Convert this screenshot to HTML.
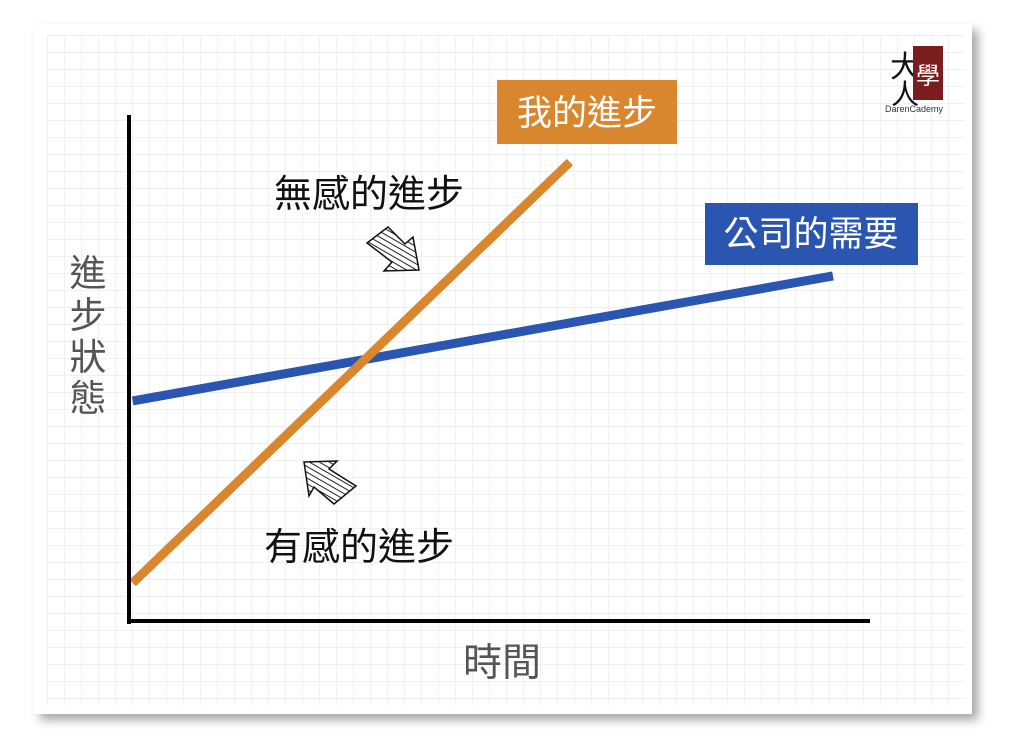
<!DOCTYPE html>
<html><head><meta charset="utf-8"><style>
body{margin:0;width:1024px;height:742px;background:#fff;overflow:hidden;font-family:"Liberation Sans","Noto Sans CJK TC",sans-serif}
</style></head><body>
<svg width="1024" height="742">
<defs>
<pattern id="grid" x="47" y="35" width="17" height="17" patternUnits="userSpaceOnUse"><path d="M0 0H17M0 0V17" stroke="#e3e3e8" stroke-width="1" fill="none"/></pattern>
<pattern id="hatch" width="5" height="5" patternUnits="userSpaceOnUse" patternTransform="rotate(30)"><rect width="5" height="5" fill="#fff"/><line x1="0" y1="0" x2="5" y2="0" stroke="#222" stroke-width="2"/></pattern>
<filter id="sh"><feDropShadow dx="6" dy="6" stdDeviation="5" flood-color="#000" flood-opacity="0.35"/></filter>
</defs>
<rect x="34" y="24" width="938" height="690" fill="#fff" filter="url(#sh)"/>
<rect x="47" y="35" width="918" height="670" fill="url(#grid)"/>
<g id="plot"></g>
<line x1="129" y1="115" x2="129" y2="624" stroke="#000" stroke-width="4"/>
<line x1="127" y1="621" x2="870" y2="621" stroke="#000" stroke-width="4"/>
<text x="502" y="676" font-size="39" fill="#555" text-anchor="middle">時間</text>
<g font-size="37" fill="#555" text-anchor="middle"><text x="88" y="286">進</text><text x="88" y="328">步</text><text x="88" y="370">狀</text><text x="88" y="411">態</text></g>
<rect x="497" y="80" width="180" height="64" fill="#d9872e"/>
<text x="587" y="125" font-size="35" fill="#fff" text-anchor="middle">我的進步</text>
<rect x="705" y="203" width="213" height="62" fill="#2a55b0"/>
<text x="811" y="246" font-size="35" fill="#fff" text-anchor="middle">公司的需要</text>
<text x="369" y="207" font-size="38" fill="#111" text-anchor="middle">無感的進步</text>
<text x="359" y="560" font-size="38" fill="#111" text-anchor="middle">有感的進步</text>
<path d="M367 243 L388 227 L405 244 L413 237 L419 270 L384 271 L392 262 Z" fill="url(#hatch)" stroke="#111" stroke-width="1.5"/>
<path d="M304 462 L337 461 L329 469 L356 486 L334 504 L314 487 L309 496 Z" fill="url(#hatch)" stroke="#111" stroke-width="1.5"/>
<g>
<text x="905" y="77" font-size="30" fill="#111" text-anchor="middle">大</text>
<text x="905" y="104" font-size="28" fill="#111" text-anchor="middle">人</text>
<rect x="913" y="46" width="30" height="54" fill="#7a1d1d"/>
<text x="928" y="84" font-size="24" fill="#fff" text-anchor="middle">學</text>
<text x="914" y="112" font-size="9" fill="#333" text-anchor="middle">DarenCademy</text>
</g>
</svg>
<script>
const seriesNames=["公司的需要","我的進步"];
const blueX=[0.5,95];
const blueY=[43.5,68.2];
const orangeX=[0.5,59.5];
const orangeY=[7.5,90.7];
const xs=v=>129+v/100*741;
const ys=v=>621-v/100*506;
const g=document.getElementById('plot');
function line(X,Y,color,name){
  const l=document.createElementNS('http://www.w3.org/2000/svg','polyline');
  l.setAttribute('points',X.map((x,i)=>xs(x)+','+ys(Y[i])).join(' '));
  l.setAttribute('stroke',color);l.setAttribute('stroke-width','9');l.setAttribute('fill','none');
  
  
  g.appendChild(l);
}
line(blueX,blueY,'#2a55b0','company-need-line');
line(orangeX,orangeY,'#d9872e','my-progress-line');
</script>
</body></html>
